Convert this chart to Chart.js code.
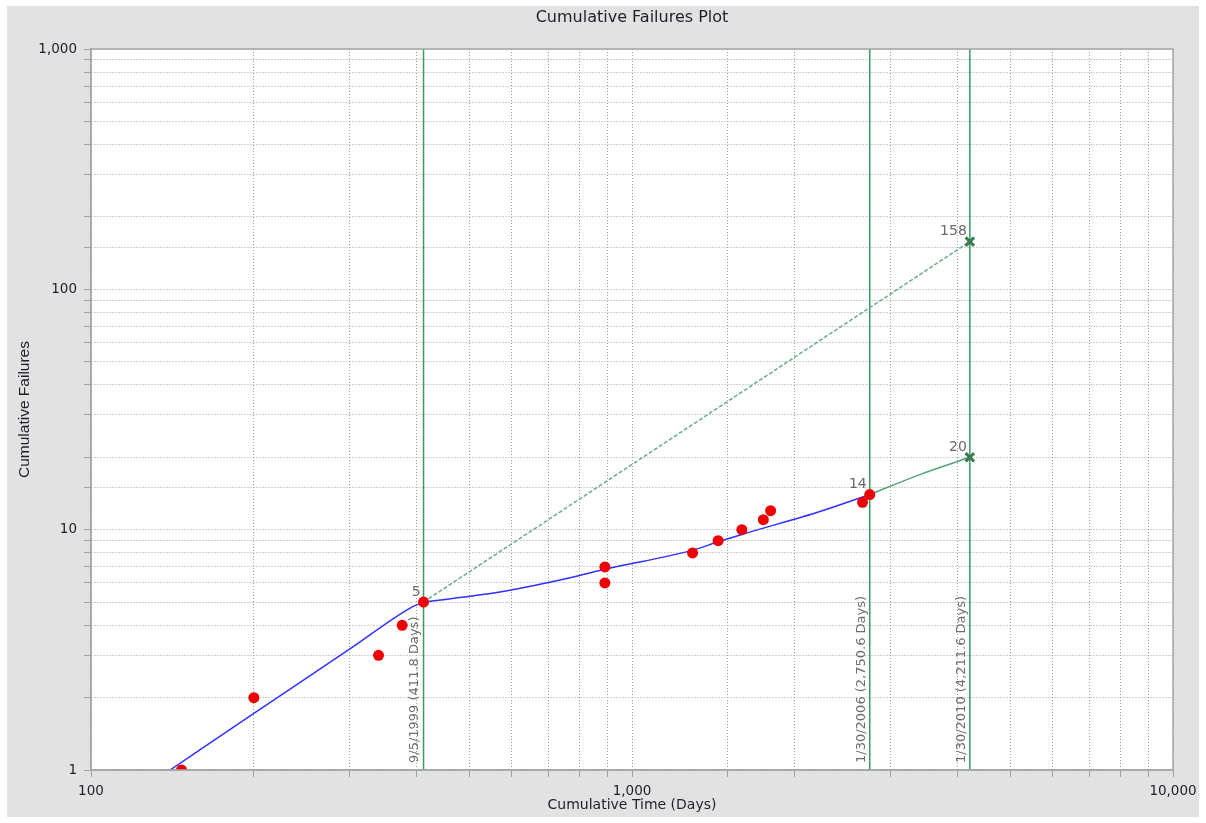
<!DOCTYPE html>
<html><head><meta charset="utf-8">
<script src="https://cdn.jsdelivr.net/npm/chart.js@4.4.1/dist/chart.umd.min.js"></script>
<style>html,body{margin:0;padding:0;background:#fff;}#wrap{width:1206px;height:823px;position:relative;}</style>
</head><body><div id="wrap"><canvas id="c" width="1206" height="823"></canvas></div>
<script>
// ---- data ----
const chartTitle = 'Cumulative Failures Plot';
const failureTimes  = [147, 200, 340, 376, 411.8, 891, 891, 1294, 1443, 1596, 1749, 1804, 2668, 2750.6];
const failureCounts = [1, 2, 3, 4, 5, 6, 7, 8, 9, 10, 11, 12, 13, 14];
const fitTimes1  = [140, 200, 301, 389, 411.8];
const fitValues1 = [1, 1.72, 3.19, 4.72, 5];
const fitTimes2  = [411.8, 570, 736, 891, 1291, 1443, 1596, 2226, 2750.6];
const fitValues2 = [5, 5.5, 6.17, 6.85, 8.2, 8.9, 9.55, 11.9, 14];
const forecastTimes  = [2750.6, 3404, 4211.6];
const forecastValues = [14, 16.95, 20];
const projectionTimes  = [411.8, 4211.6];
const projectionValues = [5, 158];
const endMarkTimes  = [4211.6, 4211.6];
const endMarkValues = [158, 20];
const eventTimes  = [411.8, 2750.6, 4211.6];
const eventLabels = ['9/5/1999 (411.8 Days)', '1/30/2006 (2,750.6 Days)', '1/30/2010 (4,211.6 Days)'];
const markTimes  = [411.8, 2750.6, 4211.6, 4211.6];
const markValues = [5, 14, 158, 20];
const xTickLabels = [100, 1000, 10000];
const yTickLabels = [1, 10, 100, 1000];
const yRange = [1, 1000];

const pts = (xs, ys) => xs.map((x, i) => ({x, y: ys[i]}));
const FONT = "'DejaVu Sans', sans-serif";

const datasets = [
  {type:'scatter', data: pts(failureTimes, failureCounts), pointRadius:5.5, pointHoverRadius:5.5,
   backgroundColor:'#ee0000', borderColor:'#ee0000', borderWidth:0, showLine:false},
  {type:'scatter', data: pts(endMarkTimes, endMarkValues), pointStyle:'crossRot', pointRadius:6,
   borderColor:'#3a7d52', backgroundColor:'#3a7d52', borderWidth:3, showLine:false},
  {type:'line', data: pts(fitTimes1, fitValues1), borderColor:'#3030ff', borderWidth:1.5, pointRadius:0, cubicInterpolationMode:'monotone'},
  {type:'line', data: pts(fitTimes2, fitValues2), borderColor:'#3030ff', borderWidth:1.5, pointRadius:0, cubicInterpolationMode:'monotone'},
  {type:'line', data: pts(forecastTimes, forecastValues), borderColor:'#55a373', borderWidth:1.5, pointRadius:0, cubicInterpolationMode:'monotone'},
  {type:'line', data: pts(projectionTimes, projectionValues), borderColor:'#6aab85', borderWidth:1.5, borderDash:[4,2], pointRadius:0},
];
eventTimes.forEach(t => datasets.push({type:'line', data: pts([t, t], yRange), borderColor:'#3a9a64', borderWidth:1.5, pointRadius:0}));

const bgPlugin = {
  id:'bg',
  beforeDraw(chart){
    const {ctx, chartArea:a} = chart;
    ctx.save();
    ctx.fillStyle = '#ffffff'; ctx.fillRect(0,0,chart.width,chart.height);
    ctx.fillStyle = '#e2e2e2'; ctx.fillRect(7,6,chart.width-14,chart.height-12);
    ctx.fillStyle = '#ffffff'; ctx.fillRect(a.left,a.top,a.right-a.left,a.bottom-a.top);
    ctx.restore();
  },
  afterDraw(chart){
    const {ctx, chartArea:a, scales} = chart;
    ctx.save();
    ctx.strokeStyle = '#a6a6a6'; ctx.lineWidth = 1.5;
    ctx.strokeRect(a.left, a.top, a.right-a.left, a.bottom-a.top);
    // title, centred over the plot area
    ctx.fillStyle = '#1e1e2a';
    ctx.font = "16px " + FONT;
    ctx.textAlign = 'center'; ctx.textBaseline = 'middle';
    ctx.fillText(chartTitle, (a.left + a.right) / 2, 17.5);
    // event labels
    ctx.fillStyle = '#6e6e6e';
    ctx.font = "13px " + FONT;
    ctx.textAlign = 'left'; ctx.textBaseline = 'bottom';
    eventTimes.forEach((t, i) => {
      const x = scales.x.getPixelForValue(t);
      ctx.save();
      ctx.translate(x - 2, a.bottom - 7);
      ctx.rotate(-Math.PI/2);
      ctx.fillText(eventLabels[i], 0, 0);
      ctx.restore();
    });
    // value labels
    ctx.textAlign = 'right'; ctx.textBaseline = 'bottom';
    ctx.font = "14px " + FONT;
    ctx.fillStyle = '#6a6a6a';
    markTimes.forEach((t, i) => {
      const x = scales.x.getPixelForValue(t), y = scales.y.getPixelForValue(markValues[i]);
      ctx.fillText(String(markValues[i]), x - 3, y - 3);
    });
    ctx.restore();
  }
};

const gridCommon = {color:'#a0a0a0', lineWidth:1, drawTicks:true, tickLength:7, tickColor:'#a0a0a0'};

new Chart(document.getElementById('c'), {
  data: {datasets},
  options: {
    responsive:false, animation:false, maintainAspectRatio:false,
    layout:{padding:{top:49,right:33,bottom:0,left:0}},
    plugins:{ legend:{display:false}, tooltip:{enabled:false}, title:{display:false} },
    scales:{
      x:{type:'logarithmic', position:'bottom', min:100, max:10000,
         grid:gridCommon, border:{display:true, color:'#a6a6a6', width:1.5, dash:[1,2]},
         ticks:{autoSkip:false, maxRotation:0, minRotation:0, padding:6, color:'#1e1e2a',
                font:{family:FONT, size:13.5},
                callback:(v)=> xTickLabels.includes(Number(v)) ? Number(v).toLocaleString('en-US') : ''},
         title:{display:true, text:'Cumulative Time (Days)', color:'#1e1e2a', font:{family:FONT, size:14}, padding:{top:0,bottom:9.6}},
         afterFit:(s)=>{s.height = 53;}},
      y:{type:'logarithmic', position:'left', min:1, max:1000,
         grid:gridCommon, border:{display:true, color:'#a6a6a6', width:1.5, dash:[1,2]},
         ticks:{autoSkip:false, padding:7, color:'#1e1e2a', font:{family:FONT, size:13.5},
                callback:(v)=> yTickLabels.includes(Number(v)) ? Number(v).toLocaleString('en-US') : ''},
         title:{display:true, text:'Cumulative Failures', color:'#1e1e2a', font:{family:"'Liberation Sans', sans-serif", size:15.5}, padding:{top:15.7,bottom:0}},
         afterFit:(s)=>{s.width = 91;}}
    }
  },
  plugins:[bgPlugin]
});
</script></body></html>
